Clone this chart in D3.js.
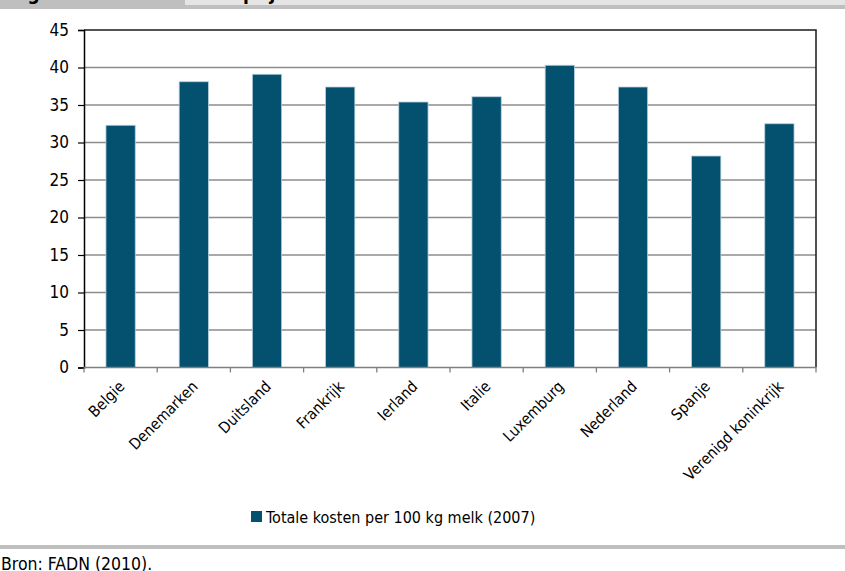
<!DOCTYPE html>
<html>
<head>
<meta charset="utf-8">
<script src="https://cdn.jsdelivr.net/npm/d3@7"></script>
<style>
  html, body { margin: 0; padding: 0; background: #fff; }
  svg { display: block; }
  text { font-family: "DejaVu Sans Condensed", "Liberation Sans", sans-serif; fill: #000; }
</style>
</head>
<body>
<svg id="chart" width="845" height="571"></svg>
<script>
// Total cost per 100 kg of milk, 2007, by country
const countries = ["Belgie", "Denemarken", "Duitsland", "Frankrijk", "Ierland",
                   "Italie", "Luxemburg", "Nederland", "Spanje", "Verenigd koninkrijk"];
const totalCosts = [32.3, 38.1, 39.1, 37.4, 35.4, 36.1, 40.3, 37.4, 28.2, 32.5];
const yTicks = [0, 5, 10, 15, 20, 25, 30, 35, 40, 45];
const seriesName = "Totale kosten per 100 kg melk (2007)";
const figureLabel = "Figuur 3";
const figureTitle = "Kostprijs melk";
const sourceNote = "Bron: FADN (2010).";

const W = 845, H = 571;
const plot = { left: 84, right: 816, top: 30, bottom: 367.5 };
const barColor = "#03516f";

const svg = d3.select("#chart");

// Header band (title row, cropped at the top edge)
svg.append("rect").attr("x", 0).attr("y", 0).attr("width", W).attr("height", 9).attr("fill", "#bfbfbf");
svg.append("rect").attr("x", 185).attr("y", 0).attr("width", W - 185).attr("height", 5).attr("fill", "#e5e5e5");
svg.append("text").attr("x", 10).attr("y", 0).attr("font-size", 19).attr("font-weight", "bold").text(figureLabel);
svg.append("text").attr("x", 200).attr("y", 0).attr("font-size", 19).attr("font-weight", "bold").text(figureTitle);

const x = d3.scaleBand().domain(countries).range([plot.left, plot.right]).paddingInner(0.6).paddingOuter(0.3);
const y = d3.scaleLinear().domain([0, 45]).range([plot.bottom, plot.top]);

// Gridlines
svg.append("g").selectAll("line").data(yTicks.filter(d => d > 0 && d < 45)).join("line")
  .attr("x1", plot.left).attr("x2", plot.right)
  .attr("y1", d => y(d)).attr("y2", d => y(d))
  .attr("stroke", "#8c8c8c").attr("stroke-width", 1.3);

// Bars
svg.append("g").selectAll("rect").data(countries).join("rect")
  .attr("x", d => x(d))
  .attr("width", x.bandwidth())
  .attr("y", (d, i) => y(totalCosts[i]))
  .attr("height", (d, i) => plot.bottom - y(totalCosts[i]))
  .attr("fill", barColor)
  .attr("stroke", "#b7cfdc").attr("stroke-width", 0.8);

// Plot frame: top and right edges
svg.append("path")
  .attr("d", `M${plot.left},${plot.top}H${plot.right}V${plot.bottom}`)
  .attr("fill", "none").attr("stroke", "#1a1a1a").attr("stroke-width", 1.5);

// Y axis
const yAxis = svg.append("g").attr("transform", `translate(${plot.left},0)`)
  .call(d3.axisLeft(y).tickValues(yTicks).tickSize(6).tickPadding(9).tickFormat(d3.format("d")));
yAxis.select(".domain").attr("stroke", "#000").attr("stroke-width", 1.5);
yAxis.selectAll(".tick line").attr("stroke", "#000").attr("stroke-width", 1.2);
yAxis.selectAll(".tick text").attr("font-size", 17).attr("font-family", null).attr("fill", "#111");

// X axis with ticks on category boundaries
const boundaries = d3.range(countries.length + 1).map(i => plot.left + i * (plot.right - plot.left) / countries.length);
svg.append("line").attr("x1", plot.left).attr("x2", plot.right)
  .attr("y1", plot.bottom).attr("y2", plot.bottom)
  .attr("stroke", "#808080").attr("stroke-width", 1.5);
svg.append("g").selectAll("line").data(boundaries).join("line")
  .attr("x1", d => d).attr("x2", d => d)
  .attr("y1", plot.bottom).attr("y2", plot.bottom + 5)
  .attr("stroke", "#808080").attr("stroke-width", 1.3);

svg.append("g").selectAll("text").data(countries).join("text")
  .attr("transform", d => `translate(${x(d) + x.bandwidth() / 2 + 5},${plot.bottom + 20}) rotate(-45)`)
  .attr("text-anchor", "end")
  .attr("font-size", 15.5)
  .text(d => d);

// Legend
const legend = svg.append("g").attr("transform", "translate(251,511)");
legend.append("rect").attr("width", 11).attr("height", 11).attr("fill", barColor);
legend.append("text").attr("x", 15).attr("y", 11.5).attr("font-size", 16).text(seriesName);

// Source line
svg.append("rect").attr("x", 0).attr("y", 545).attr("width", W).attr("height", 4).attr("fill", "#bfbfbf");
svg.append("text").attr("x", 1).attr("y", 570).attr("font-size", 17.5).text(sourceNote);
</script>
</body>
</html>
